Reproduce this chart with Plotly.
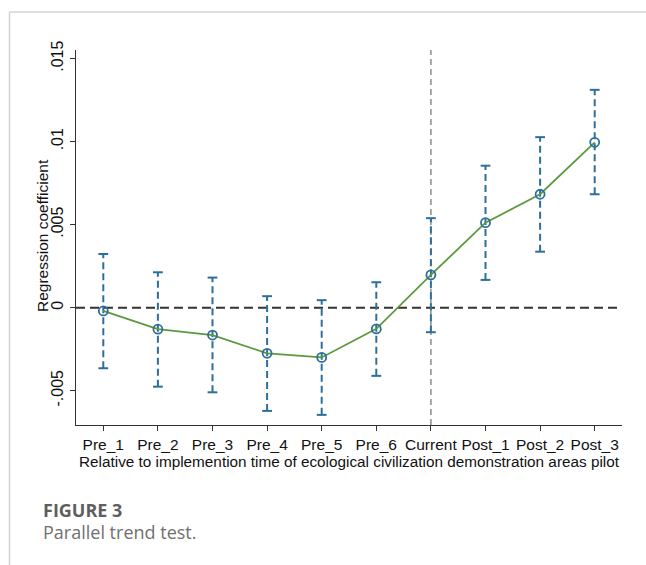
import plotly.graph_objects as go

periods = ["Pre_1", "Pre_2", "Pre_3", "Pre_4", "Pre_5", "Pre_6",
           "Current", "Post_1", "Post_2", "Post_3"]
coef = [-0.0002, -0.0013, -0.00165, -0.00275, -0.0030, -0.00128,
        0.00197, 0.00512, 0.00683, 0.00996]
ci_upper = [0.00323, 0.00213, 0.00181, 0.00069, 0.00045, 0.00153,
            0.00539, 0.00855, 0.01027, 0.01312]
ci_lower = [-0.00365, -0.00476, -0.0051, -0.00622, -0.00646, -0.00411,
            -0.00148, 0.00167, 0.00337, 0.00683]
ytick_vals = [-0.005, 0, 0.005, 0.01, 0.015]
ytick_text = ["-.005", "0", ".005", ".01", ".015"]

BLUE = "#2e6f9a"
GREEN = "#5b9a3c"

xi = list(range(len(periods)))

# dashed CI segments
seg_x, seg_y = [], []
for i, lo, hi in zip(xi, ci_lower, ci_upper):
    seg_x += [i, i, None]
    seg_y += [lo, hi, None]

fig = go.Figure()
fig.add_trace(go.Scatter(x=seg_x, y=seg_y, mode="lines",
                         line=dict(color=BLUE, width=2, dash="7px,4px"),
                         hoverinfo="skip", showlegend=False))
fig.add_trace(go.Scatter(x=xi + xi, y=ci_lower + ci_upper, mode="markers",
                         marker=dict(symbol="line-ew", size=7,
                                     line=dict(color=BLUE, width=2)),
                         hoverinfo="skip", showlegend=False))
fig.add_trace(go.Scatter(x=xi, y=coef, mode="lines+markers",
                         line=dict(color=GREEN, width=1.8),
                         marker=dict(symbol="circle-open", size=9,
                                     color=BLUE, line=dict(color=BLUE, width=1.8)),
                         showlegend=False))

# reference lines
fig.add_shape(type="line", xref="paper", yref="y", x0=0, x1=1, y0=0, y1=0,
              line=dict(color="#333333", width=2, dash="9px,5px"), layer="below")
fig.add_shape(type="line", xref="x", yref="paper", x0=6, x1=6, y0=0, y1=1,
              line=dict(color="#8c8c8c", width=1.5, dash="6px,4px"), layer="below")

# page border lines
PW, PH = 546.0, 375.0
def px(x):
    return (x - 76) / PW
def py(y):
    return (425 - y) / PH
fig.add_shape(type="line", xref="paper", yref="paper", x0=px(9.5), x1=px(646),
              y0=py(12), y1=py(12), line=dict(color="#d4d4d4", width=1.5))
fig.add_shape(type="line", xref="paper", yref="paper", x0=px(9.5), x1=px(9.5),
              y0=py(12), y1=py(565), line=dict(color="#d4d4d4", width=1.5))

# y-axis title placed as rotated text
fig.add_annotation(text="Regression coefficient", xref="paper", yref="paper",
                   x=px(42), y=py(236), xanchor="center", yanchor="middle",
                   textangle=-90, showarrow=False,
                   font=dict(family="Liberation Sans, Arial", size=15.5, color="#111111"))

fig.add_annotation(text="<b>FIGURE 3</b>", xref="paper", yref="paper",
                   x=px(41), y=py(509.5), xanchor="left", yanchor="middle",
                   showarrow=False,
                   font=dict(family="Open Sans", size=18, color="#5e5e5e"))
fig.add_annotation(text="Parallel trend test.", xref="paper", yref="paper",
                   x=px(41), y=py(532), xanchor="left", yanchor="middle",
                   showarrow=False,
                   font=dict(family="Open Sans", size=18, color="#707070"))

fig.update_layout(
    width=646, height=565,
    margin=dict(l=76, r=24, t=50, b=140, autoexpand=False),
    paper_bgcolor="white", plot_bgcolor="white",
    font=dict(family="Liberation Sans, Arial", size=15, color="#111111"),
    xaxis=dict(range=[-0.5, 9.5], tickvals=xi, ticktext=periods,
               automargin=False,
               showgrid=False, zeroline=False, showline=True,
               linecolor="#333333", linewidth=1.3, ticks="outside",
               ticklen=5, tickcolor="#333333",
               tickfont=dict(size=15.5),
               title=dict(text="Relative to implemention time of ecological civilization demonstration areas pilot",
                          font=dict(size=15.3), standoff=3)),
    yaxis=dict(range=[-0.00707, 0.01552], tickvals=ytick_vals, ticktext=ytick_text,
               automargin=False,
               tickangle=-90, showgrid=False, zeroline=False, showline=True,
               linecolor="#333333", linewidth=1.3, ticks="outside",
               ticklen=5, tickcolor="#333333",
               tickfont=dict(size=16)),
)

fig.write_html("out.html",
               config={"displayModeBar": False},
               post_script="document.body.style.margin='0';document.body.style.overflow='hidden';")
